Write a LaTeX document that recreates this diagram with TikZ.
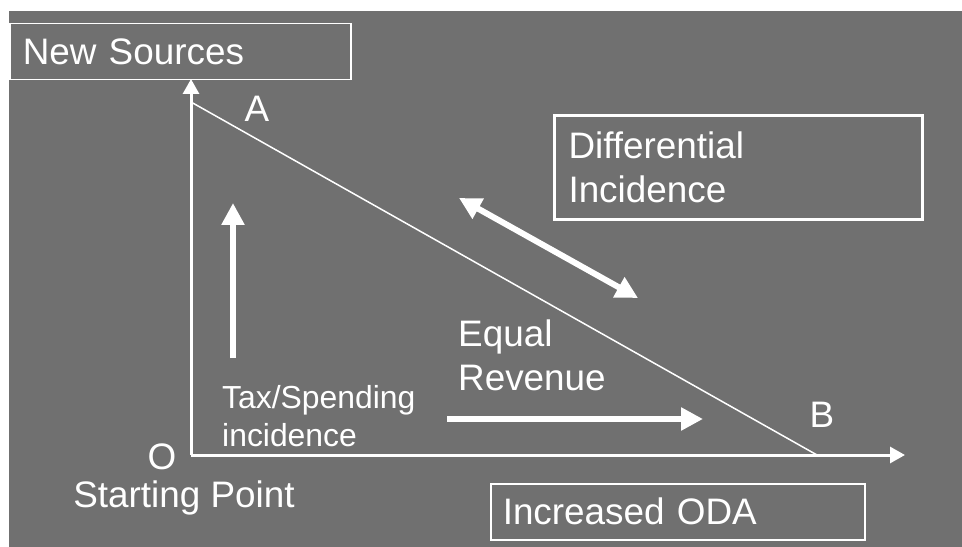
\documentclass[tikz,border=0pt]{standalone}
\usepackage{fontspec}
\setmainfont{Liberation Sans}
\usetikzlibrary{arrows.meta}
\definecolor{slidegray}{RGB}{112,112,112}

\begin{document}
\begin{tikzpicture}[x=1bp, y=-1bp,
    every node/.style={text=white, inner sep=0pt},
    labelbox/.style={draw=white, anchor=north west, align=left},
    axisline/.style={white, line width=3bp, -{Triangle[length=15bp, width=16bp]}},
    bigarrow/.style={white, line width=6bp, -{Triangle[length=22bp, width=22bp]}},
    bigfont/.style={font=\fontsize{37}{44}\selectfont},
    smallfont/.style={font=\fontsize{32}{38}\selectfont}]
      \fill[white] (0,0) rectangle (962,547);
      \useasboundingbox (0,0) rectangle (962,547);
      \fill[slidegray] (9,11) rectangle (962,547);

      \coordinate (O) at (191,455);
      \coordinate (ytip) at (191,79);
      \coordinate (xtip) at (905,455);
      \coordinate (A) at (191,102);
      \coordinate (B) at (817,455);

      \draw[axisline] (O) -- (ytip);
      \draw[axisline] (O) -- (xtip);
      \draw[white, line width=1.5bp] (A) -- (B);

      \node[labelbox, bigfont, line width=1.5bp, inner xsep=13bp, text width=315bp,
        minimum height=56bp] (newsrc) at (9,23) {New Sources};
      \node[labelbox, bigfont, line width=3bp, inner xsep=14bp, text width=340bp,
        minimum height=104bp] (diffinc) at (553,114) {Differential\\Incidence};
      \node[labelbox, bigfont, line width=1.5bp, inner xsep=12bp, text width=350bp,
        minimum height=56bp] (oda) at (490,483) {Increased ODA};

      \node[bigfont] (lblA) at (257,109) {A};
      \node[bigfont] (lblB) at (822,415) {B};
      \node[bigfont] (lblO) at (162,457) {O};
      \node[bigfont] (start) at (184,498) {Starting Point};
      \node[smallfont, anchor=west, align=left] (taxsp) at (222,416) {Tax/Spending\\incidence};
      \node[bigfont, anchor=west, align=left] (eqrev) at (458,355) {Equal\\Revenue};

      % thick arrows
      \coordinate (up0) at (233,358);
      \coordinate (up1) at (233,203);
      \coordinate (rt0) at (447,419);
      \coordinate (rt1) at (703,419);
      \coordinate (d0) at (459,198);
      \coordinate (d1) at (638,298);
      \draw[bigarrow] (up0) -- (up1);
      \draw[bigarrow] (rt0) -- (rt1);
      \draw[bigarrow, {Triangle[length=22bp, width=22bp]}-{Triangle[length=22bp, width=22bp]}] (d0) -- (d1);
\end{tikzpicture}
\end{document}
